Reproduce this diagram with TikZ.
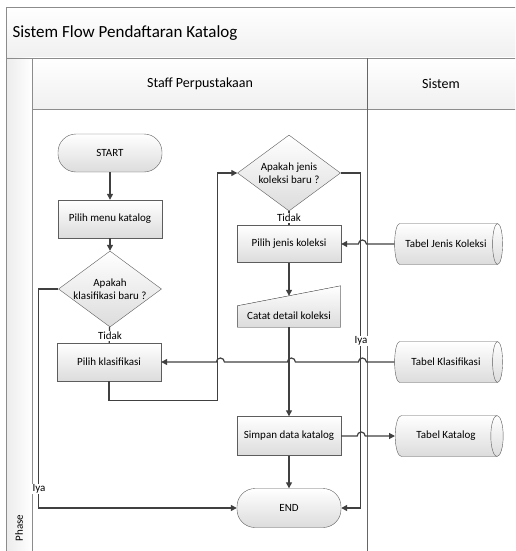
\documentclass[tikz,border=0pt]{standalone}
\usepackage{fontspec}
\setmainfont{Carlito}
\usetikzlibrary{shapes.geometric,arrows.meta,positioning}
\definecolor{linegray}{HTML}{404040}
\definecolor{framegray}{HTML}{8C8C8C}
\definecolor{boxgray}{HTML}{DCDCDC}

\begin{document}
\begin{tikzpicture}[x=1pt,y=-1pt,
  proc/.style={draw=linegray!85, top color=white, bottom color=boxgray,
    minimum width=104pt, minimum height=38pt, inner sep=1pt,
    font=\fontsize{11}{13}\selectfont, align=center},
  term/.style={proc, rounded corners=18pt},
  dec/.style={proc, diamond, aspect=1.36, minimum width=103pt, minimum height=76pt, inner sep=-6pt},
  store/.style={proc, cylinder, shape border rotate=0, shape aspect=1.3,
    minimum width=41pt, minimum height=108pt, inner sep=0pt},
  flow/.style={draw=linegray, line width=1.2pt, -{Triangle[length=6pt,width=6pt]}},
  link/.style={draw=linegray, line width=1.2pt},
  lbl/.style={fill=white, inner sep=1pt, font=\fontsize{11}{13}\selectfont},
  head/.style={font=\fontsize{14}{16}\selectfont}]

\clip (0,0) rectangle (515,551);

% lanes and header
\shade [top color=white, bottom color=gray!12] (6,7) rectangle (520,58);
\shade [top color=white, bottom color=gray!12] (32,58) rectangle (520,109);
\shade [left color=gray!15, right color=white] (6,58) rectangle (32,560);
\draw [framegray] (6,560)--(6,7)--(520,7);
\draw [framegray] (6,58)--(520,58);
\draw [framegray] (32,109)--(520,109);
\draw [framegray] (32,58)--(32,560);
\draw [linegray!80] (367,58)--(367,560);

\node [font=\fontsize{17}{19}\selectfont, anchor=west] (judul) at (9,33) {Sistem Flow Pendaftaran Katalog};
\node [head] (staff) at (200,84) {Staff Perpustakaan};
\node [head] (sistem) at (441,84) {Sistem};
\node [rotate=90, font=\fontsize{11}{13}\selectfont] (phase) at (19,528) {Phase};

% Staff Perpustakaan
\node [term] (start) at (110,153) {START};
\node [proc] (menu) at (110,219) {Pilih menu katalog};
\node [dec] (kdec) at (110,289) {Apakah\\klasifikasi baru ?};
\node [proc] (pklas) at (109,362) {Pilih klasifikasi};

\node [dec] (jdec) at (289,173) {Apakah jenis\\koleksi baru ?};
\node [proc, minimum height=37pt] (jenis) at (289,244) {Pilih jenis koleksi};
\node [minimum width=103pt, minimum height=31pt, inner sep=1pt,
  font=\fontsize{11}{13}\selectfont] (catat) at (289,311.5) {};
\fill [top color=white, bottom color=boxgray] (catat.south west) -- (catat.south east)
  -- ([yshift=10pt]catat.north east) -- ([yshift=-10pt]catat.north west) -- cycle;
\draw [linegray!85] (catat.south west) -- (catat.south east)
  -- ([yshift=10pt]catat.north east) -- ([yshift=-10pt]catat.north west) -- cycle;
\node [font=\fontsize{11}{13}\selectfont] (catattext) at (289,316) {Catat detail koleksi};
\node [proc, minimum height=39pt] (simpan) at (289,436) {Simpan data katalog};
\node [term, minimum height=39pt] (endn) at (289,508) {END};

% Sistem
\node [store] (tjenis) at (446,244) {Tabel Jenis Koleksi};
\node [store] (tklas) at (446,362) {Tabel Klasifikasi};
\node [store] (tkat) at (446,436) {Tabel Katalog};

% connectors
\draw [flow] (start) -- (menu);
\draw [flow] (menu) -- (kdec);
\draw [link] (kdec) -- (pklas);
\draw [flow] (kdec.west) -- ++(-20,0) |- (endn.west);
\draw [flow] (pklas.south) -- ++(0,19) -| ([xshift=-20pt]jdec.west) -- (jdec.west);
\draw [flow] (jdec.east) -- ++(20,0) |- (endn.east);
\draw [link] (jdec) -- (jenis);
\draw [flow] (jenis) -- (catat);
\draw [flow] (catat) -- (simpan);
\draw [flow] (simpan) -- (endn);

  % hops over the Iya line and the others
\draw [flow] (tjenis.west) -- ++(-28,0) arc [start angle=0, end angle=-180, radius=4] -- (jenis.east);
\draw [flow] (tklas.west) -- ++(-28,0) arc [start angle=0, end angle=-180, radius=4]
  -- ++(-63,0) arc [start angle=0, end angle=-180, radius=4]
  -- ++(-63,0) arc [start angle=0, end angle=-180, radius=4] -- (pklas.east);
\draw [flow] (simpan.east) -- ++(16,0) arc [start angle=180, end angle=360, radius=4] -- (tkat.west);

% labels
\node [lbl] (tidak1) at (110,336) {Tidak};
\node [lbl] (tidak2) at (289,218) {Tidak};
\node [lbl] (iya1) at (39,489) {Iya};
\node [lbl] (iya2) at (361,341) {Iya};

\end{tikzpicture}
\end{document}
